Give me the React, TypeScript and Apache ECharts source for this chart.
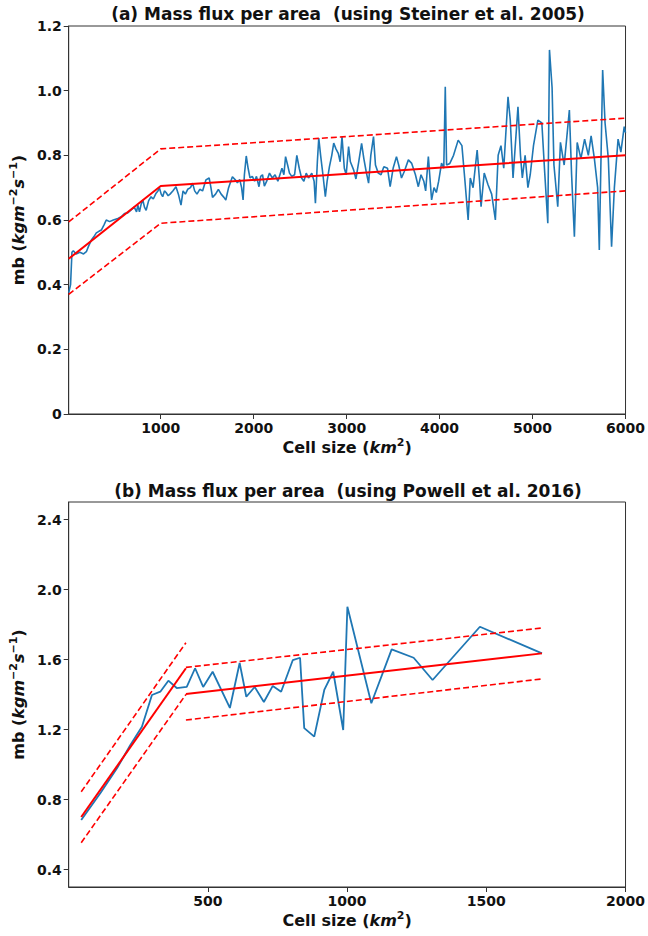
import React, { useEffect, useRef } from "react";
import * as echarts from "echarts";

// ---- Panel (a) data ----
const topX = [10,30,45,60,90,130,170,200,225,254,280,307,335,361,390,414,450,490,539,575,610,645,682,715,740,754,771,790,807,825,843,870,896,920,950,970,986,1005,1021,1040,1057,1080,1100,1130,1164,1190,1218,1240,1265,1290,1320,1343,1365,1390,1420,1450,1486,1521,1540,1557,1590,1620,1650,1680,1700,1730,1771,1800,1825,1850,1870,1886,1900,1920,1940,1960,1985,2010,2030,2057,2075,2095,2115,2140,2170,2200,2230,2260,2304,2325,2343,2365,2385,2410,2440,2464,2490,2515,2540,2565,2590,2625,2650,2664,2685,2700,2720,2745,2771,2790,2815,2840,2861,2885,2910,2930,2950,2975,2995,3021,3040,3075,3100,3130,3161,3185,3210,3236,3260,3289,3310,3340,3370,3400,3440,3468,3500,3536,3560,3590,3620,3664,3700,3740,3771,3800,3830,3850,3879,3914,3940,3965,3990,4021,4045,4061,4075,4110,4150,4200,4240,4270,4307,4330,4360,4404,4430,4446,4480,4520,4560,4600,4630,4660,4690,4736,4760,4790,4843,4870,4890,4920,4950,4975,5010,5057,5100,5130,5164,5182,5210,5230,5271,5300,5340,5396,5420,5450,5480,5520,5560,5600,5630,5665,5700,5718,5754,5780,5815,5850,5880,5920,5950,5986,6000];
const topY = [0.375,0.40,0.50,0.505,0.495,0.50,0.495,0.502,0.52,0.538,0.548,0.56,0.565,0.569,0.585,0.60,0.595,0.60,0.605,0.61,0.62,0.622,0.631,0.64,0.625,0.646,0.625,0.65,0.662,0.64,0.63,0.66,0.672,0.665,0.683,0.69,0.699,0.68,0.672,0.69,0.685,0.675,0.68,0.69,0.703,0.68,0.646,0.69,0.68,0.695,0.70,0.714,0.69,0.68,0.695,0.69,0.724,0.73,0.70,0.67,0.68,0.695,0.68,0.67,0.662,0.70,0.734,0.725,0.715,0.725,0.70,0.662,0.74,0.798,0.76,0.73,0.735,0.72,0.735,0.703,0.735,0.74,0.705,0.72,0.745,0.73,0.74,0.72,0.76,0.74,0.796,0.77,0.745,0.735,0.74,0.80,0.76,0.73,0.72,0.745,0.73,0.745,0.72,0.652,0.78,0.853,0.80,0.74,0.672,0.72,0.765,0.80,0.838,0.82,0.806,0.78,0.858,0.76,0.74,0.827,0.78,0.755,0.727,0.78,0.837,0.79,0.75,0.714,0.80,0.858,0.77,0.745,0.74,0.765,0.76,0.703,0.76,0.796,0.77,0.73,0.75,0.786,0.775,0.74,0.703,0.74,0.72,0.69,0.796,0.662,0.70,0.685,0.72,0.776,0.76,1.012,0.77,0.775,0.80,0.847,0.83,0.73,0.60,0.73,0.70,0.816,0.72,0.641,0.745,0.71,0.68,0.60,0.80,0.83,0.76,0.981,0.91,0.73,0.95,0.80,0.73,0.80,0.70,0.74,0.83,0.909,0.90,0.75,0.59,1.126,1.01,0.77,0.641,0.84,0.77,0.94,0.74,0.548,0.84,0.79,0.85,0.80,0.86,0.79,0.70,0.507,1.064,0.90,0.79,0.517,0.70,0.85,0.81,0.889,0.87];
const topFitX = [10, 1000, 6000];
const topFitMid = [0.48, 0.705, 0.80];
const topFitUp = [0.594, 0.82, 0.915];
const topFitLo = [0.37, 0.59, 0.69];

// ---- Panel (b) data ----
const botX = [45,114,174,221,263,299,329,358,388,424,454,483,517,579,614,638,668,701,733,763,805,831,846,882,918,950,986,1001,1087,1160,1239,1307,1477,1700];
const botY = [0.683,0.837,0.98,1.11,1.216,1.397,1.416,1.479,1.437,1.444,1.55,1.443,1.53,1.323,1.58,1.387,1.443,1.357,1.449,1.416,1.597,1.61,1.208,1.159,1.426,1.53,1.197,1.901,1.35,1.658,1.61,1.483,1.787,1.635];
const botSeg1X = [45, 421];
const botSeg1Mid = [0.70, 1.55];
const botSeg1Up = [0.844, 1.696];
const botSeg1Lo = [0.553, 1.40];
const botSeg2X = [421, 1700];
const botSeg2Mid = [1.403, 1.635];
const botSeg2Up = [1.555, 1.78];
const botSeg2Lo = [1.254, 1.489];

const topXTicks = [1000, 2000, 3000, 4000, 5000, 6000];
const botXTicks = [500, 1000, 1500, 2000];
const botYTicks = [0.4, 0.8, 1.2, 1.6, 2.0, 2.4];

const zip = (xs: number[], ys: number[]) => xs.map((x, i) => [x, ys[i]]);

const FONT = "DejaVu Sans";
const AXIS_COLOR = "#333";
const TXT = "#111";

const nameRich = {
  n: { fontFamily: FONT, fontSize: 16, fontWeight: "bold", color: TXT, lineHeight: 20 },
  i: { fontFamily: FONT, fontSize: 16, fontWeight: "bold", fontStyle: "italic", color: TXT, lineHeight: 20 },
  s: { fontFamily: FONT, fontSize: 11, fontWeight: "bold", color: TXT, verticalAlign: "top", lineHeight: 20 },
};

function xAxisCfg(gridIndex: number, min: number, max: number, ticks: number[]) {
  return {
    type: "value",
    gridIndex,
    min,
    max,
    name: "{n|Cell size (}{i|km}{s|2}{n|)}",
    nameLocation: "middle",
    nameGap: 23,
    nameTextStyle: { rich: nameRich },
    axisLine: { show: true, lineStyle: { color: AXIS_COLOR, width: 1 } },
    axisTick: { show: true, length: 5, customValues: ticks, lineStyle: { color: AXIS_COLOR } },
    axisLabel: {
      customValues: ticks,
      fontFamily: FONT,
      fontSize: 14,
      fontWeight: "bold",
      color: TXT,
      margin: 7,
      formatter: (v: number) => String(v),
    },
    splitLine: { show: false },
  };
}

function yName() {
  return {
    name: "{n|mb (}{i|kgm}{s|−2}{i|s}{s|−1}{n|)}",
    nameLocation: "middle",
    nameGap: 35,
    nameTextStyle: { rich: nameRich },
  };
}

function lineSeries(xi: number, data: number[][], color: string, width: number, dashed: boolean) {
  return {
    type: "line",
    xAxisIndex: xi,
    yAxisIndex: xi,
    data,
    showSymbol: false,
    symbol: "none",
    silent: true,
    lineStyle: { color, width, type: dashed ? [6, 3] : "solid" },
    z: color === "red" ? 3 : 2,
  };
}

function titleText(text: string, y: number) {
  return {
    type: "text",
    x: 348,
    y,
    style: {
      text,
      textAlign: "center",
      textVerticalAlign: "middle",
      fontFamily: FONT,
      fontSize: 17,
      fontWeight: "bold",
      fill: TXT,
    },
  };
}

export default function App() {
  const ref = useRef<HTMLDivElement>(null);
  useEffect(() => {
    if (!ref.current) return;
    const chart = echarts.init(ref.current, undefined, { renderer: "svg" });
    const option: any = {
      animation: false,
      backgroundColor: "#fff",
      grid: [
        { left: 68, top: 26, width: 560, height: 388, show: true, borderColor: AXIS_COLOR, borderWidth: 1, backgroundColor: "transparent" },
        { left: 68, top: 502, width: 560, height: 385, show: true, borderColor: AXIS_COLOR, borderWidth: 1, backgroundColor: "transparent" },
      ],
      xAxis: [xAxisCfg(0, 10, 6000, topXTicks), xAxisCfg(1, 0, 2000, botXTicks)],
      yAxis: [
        {
          type: "value",
          gridIndex: 0,
          min: 0,
          max: 1.2,
          interval: 0.2,
          ...yName(),
          axisLine: { show: true, lineStyle: { color: AXIS_COLOR } },
          axisTick: { show: true, length: 5, lineStyle: { color: AXIS_COLOR } },
          axisLabel: {
            fontFamily: FONT,
            fontSize: 14,
            fontWeight: "bold",
            color: TXT,
            margin: 7,
            formatter: (v: number) => (v === 0 ? "0" : v.toFixed(1)),
          },
          splitLine: { show: false },
        },
        {
          type: "value",
          gridIndex: 1,
          min: 0.3,
          max: 2.5,
          ...yName(),
          axisLine: { show: true, lineStyle: { color: AXIS_COLOR } },
          axisTick: { show: true, length: 5, customValues: botYTicks, lineStyle: { color: AXIS_COLOR } },
          axisLabel: {
            customValues: botYTicks,
            fontFamily: FONT,
            fontSize: 14,
            fontWeight: "bold",
            color: TXT,
            margin: 7,
            formatter: (v: number) => v.toFixed(1),
          },
          splitLine: { show: false },
        },
      ],
      graphic: [
        titleText("(a) Mass flux per area  (using Steiner et al. 2005)", 14),
        titleText("(b) Mass flux per area  (using Powell et al. 2016)", 491),
      ],
      series: [
        lineSeries(0, zip(topX, topY), "#1f77b4", 1.6, false),
        lineSeries(0, zip(topFitX, topFitMid), "red", 2, false),
        lineSeries(0, zip(topFitX, topFitUp), "red", 1.6, true),
        lineSeries(0, zip(topFitX, topFitLo), "red", 1.6, true),
        lineSeries(1, zip(botX, botY), "#1f77b4", 1.8, false),
        lineSeries(1, zip(botSeg1X, botSeg1Mid), "red", 2, false),
        lineSeries(1, zip(botSeg1X, botSeg1Up), "red", 1.6, true),
        lineSeries(1, zip(botSeg1X, botSeg1Lo), "red", 1.6, true),
        lineSeries(1, zip(botSeg2X, botSeg2Mid), "red", 2, false),
        lineSeries(1, zip(botSeg2X, botSeg2Up), "red", 1.6, true),
        lineSeries(1, zip(botSeg2X, botSeg2Lo), "red", 1.6, true),
      ],
    };
    chart.setOption(option);
    return () => chart.dispose();
  }, []);
  return (
    <div
      ref={ref}
      style={{ position: "fixed", left: 0, top: 0, width: 648, height: 936, background: "#fff" }}
    />
  );
}
